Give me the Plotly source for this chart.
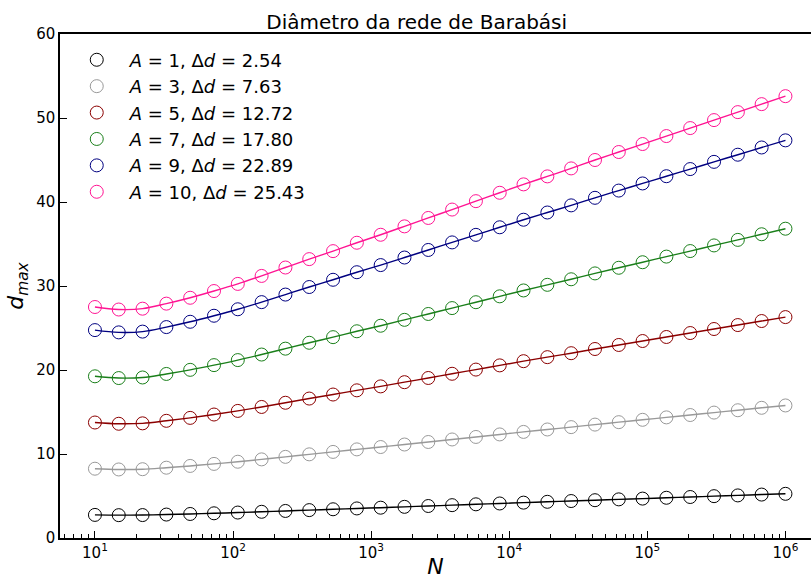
import plotly.graph_objects as go

N = [10, 14.873, 22.122, 32.903, 48.939, 72.790, 108.26, 161.03, 239.50, 356.22,
     529.83, 788.05, 1172.1, 1743.3, 2592.9, 3856.6, 5736.2, 8531.7, 12689.6, 18873.9,
     28072.2, 41753.2, 62101.7, 92367.1, 137382, 204336, 303920, 452035, 672336, 1000000]

d_A1 = [2.75, 2.72, 2.73, 2.79, 2.86, 2.94, 3.03, 3.12, 3.22, 3.32, 3.42, 3.52, 3.61, 3.71, 3.81,
        3.91, 4.01, 4.11, 4.21, 4.31, 4.40, 4.50, 4.60, 4.69, 4.79, 4.88, 4.98, 5.07, 5.17, 5.26]
d_A3 = [8.25, 8.16, 8.19, 8.37, 8.58, 8.82, 9.08, 9.36, 9.66, 9.96, 10.25, 10.55, 10.83, 11.13, 11.43,
        11.73, 12.03, 12.33, 12.63, 12.92, 13.20, 13.50, 13.79, 14.07, 14.36, 14.64, 14.93, 15.21, 15.50, 15.78]
d_A5 = [13.75, 13.60, 13.65, 13.95, 14.30, 14.70, 15.13, 15.60, 16.10, 16.60, 17.08, 17.58, 18.05, 18.55, 19.05,
        19.55, 20.05, 20.55, 21.05, 21.53, 22.00, 22.50, 22.98, 23.45, 23.93, 24.40, 24.88, 25.35, 25.83, 26.30]
d_A7 = [19.25, 19.04, 19.11, 19.53, 20.02, 20.58, 21.18, 21.84, 22.54, 23.24, 23.91, 24.61, 25.27, 25.97, 26.67,
        27.37, 28.07, 28.77, 29.47, 30.14, 30.80, 31.50, 32.17, 32.83, 33.50, 34.16, 34.83, 35.49, 36.16, 36.82]
d_A9 = [24.75, 24.48, 24.57, 25.11, 25.74, 26.46, 27.23, 28.08, 28.98, 29.88, 30.74, 31.64, 32.49, 33.39, 34.29,
        35.19, 36.09, 36.99, 37.89, 38.75, 39.60, 40.50, 41.36, 42.21, 43.07, 43.92, 44.78, 45.63, 46.49, 47.34]
d_A10 = [27.50, 27.20, 27.30, 27.90, 28.60, 29.40, 30.25, 31.20, 32.20, 33.20, 34.15, 35.15, 36.10, 37.10, 38.10,
         39.10, 40.10, 41.10, 42.10, 43.05, 44.00, 45.00, 45.95, 46.90, 47.85, 48.80, 49.75, 50.70, 51.65, 52.60]

A_values = [1, 3, 5, 7, 9, 10]
delta_d = ["2.54", "7.63", "12.72", "17.80", "22.89", "25.43"]
series = [d_A1, d_A3, d_A5, d_A7, d_A9, d_A10]
colors = ["#000000", "#999999", "#8b0000", "#1a7f1a", "#000080", "#ff1493"]

x_major = [10, 100, 1000, 10000, 100000, 1000000]
x_major_text = ["10<sup>1</sup>", "10<sup>2</sup>", "10<sup>3</sup>", "10<sup>4</sup>", "10<sup>5</sup>", "10<sup>6</sup>"]
x_minor = [m * 10 ** e for e in range(0, 7) for m in range(2, 10)]
y_ticks = [0, 10, 20, 30, 40, 50, 60]

fig = go.Figure()
for A, dd, ys, c in zip(A_values, delta_d, series, colors):
    fig.add_trace(go.Scatter(x=N, y=ys, mode="lines", line=dict(color=c, width=1.4, shape="spline"),
                             showlegend=False, hoverinfo="skip"))
for A, dd, ys, c in zip(A_values, delta_d, series, colors):
    fig.add_trace(go.Scatter(x=N, y=ys, mode="markers",
                             marker=dict(symbol="circle-open", size=13, color=c, line=dict(width=1, color=c)),
                             name=f"<i>A</i> = {A}, Δ<i>d</i> = {dd}", legendgroup=str(A)))

font = "DejaVu Sans"
fig.update_layout(
    width=811, height=579,
    margin=dict(l=60, r=0, t=34, b=41),
    paper_bgcolor="white", plot_bgcolor="white",
    font=dict(family=font, color="black", size=15),
    title=dict(text="Diâmetro da rede de Barabási", x=0.475, xref="paper", xanchor="center",
               y=0.962, yref="container", yanchor="middle", font=dict(size=20, family=font)),
    showlegend=True,
    legend=dict(x=0.005, y=0.985, xanchor="left", yanchor="top", bgcolor="rgba(0,0,0,0)",
                font=dict(size=18, family=font), itemwidth=56, tracegroupgap=0),
)
fig.update_xaxes(type="log", range=[0.747, 6.185], showgrid=False, zeroline=False,
                 showline=True, linecolor="black", linewidth=1.5, mirror=True,
                 tickmode="array", tickvals=x_major, ticktext=x_major_text,
                 ticks="inside", ticklen=7, tickwidth=1, tickcolor="black",
                 tickfont=dict(size=15, family=font),
                 minor=dict(tickmode="array", tickvals=x_minor, ticks="inside", ticklen=4, tickwidth=1,
                            tickcolor="black", showgrid=False),
                 title=dict(text="<i>N</i>", font=dict(size=22, family=font), standoff=2))
fig.update_yaxes(range=[0, 60], showgrid=False, zeroline=False,
                 showline=True, linecolor="black", linewidth=1.5, mirror=False,
                 tickmode="array", tickvals=y_ticks,
                 ticks="inside", ticklen=7, tickwidth=1, tickcolor="black",
                 tickfont=dict(size=15, family=font),
                 title=dict(text="<i>d</i><sub><i>max</i></sub>", font=dict(size=22, family=font), standoff=6))

fig.write_html("out.html")
